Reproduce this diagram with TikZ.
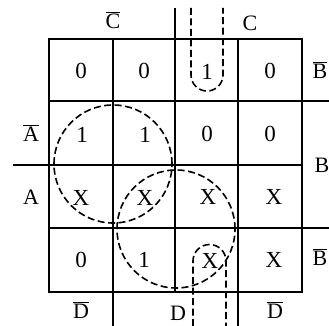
\documentclass[tikz,border=0pt]{standalone}
\usepackage{fontspec}
\setmainfont{Liberation Serif}
\begin{document}
\begin{tikzpicture}[x=1pt,y=-1pt,
  gridline/.style={line width=2pt},
  loopline/.style={line width=1.6pt, dash pattern=on 7pt off 3.5pt},
  val/.style={font=\fontsize{23}{23}\selectfont, inner sep=0pt},
  lab/.style={font=\fontsize{22}{22}\selectfont, inner sep=0pt}]
\useasboundingbox (0,0) rectangle (329,326);
\fill[white] (0,0) rectangle (329,326);
% grid
\draw[gridline] (49,39) rectangle (302,292);
\draw[gridline] (113,39) -- (113,326);
\draw[gridline] (175,8) -- (175,292);
\draw[gridline] (238,39) -- (238,326);
\draw[gridline] (49,101) -- (329,101);
\draw[gridline] (13,165) -- (302,165);
\draw[gridline] (49,228) -- (329,228);
% values
\node[val] (c11) at (81,71) {0};
\node[val] (c12) at (144,71) {0};
\node[val] (c13) at (207,72) {1};
\node[val] (c14) at (270,71) {0};
\node[val] (c21) at (82,135) {1};
\node[val] (c22) at (145,135) {1};
\node[val] (c23) at (207,134) {0};
\node[val] (c24) at (270,134) {0};
\node[val] (c31) at (81,198) {X};
\node[val] (c32) at (145,198) {X};
\node[val] (c33) at (208,197) {X};
\node[val] (c34) at (274,197) {X};
\node[val] (c41) at (81,260) {0};
\node[val] (c42) at (144,260) {1};
\node[val] (c43) at (210,261) {X};
\node[val] (c44) at (274,260) {X};
% labels
\node[lab] (lCn) at (113,20) {\(\overline{\mbox{C}}\)};
\node[lab] (lC) at (250,23) {C};
\node[lab] (lBn1) at (320,70) {\(\overline{\mbox{B}}\)};
\node[lab] (lB) at (322,165) {B};
\node[lab] (lBn2) at (320,257) {\(\overline{\mbox{B}}\)};
\node[lab] (lAn) at (31,133) {\(\overline{\mbox{A}}\)};
\node[lab] (lA) at (31,197) {A};
\node[lab] (lDn1) at (81,310) {\(\overline{\mbox{D}}\)};
\node[lab] (lD) at (178,313) {D};
\node[lab] (lDn2) at (275,310) {\(\overline{\mbox{D}}\)};
% loops
\draw[loopline] (191,8) -- (191,75) arc (180:360:16pt) -- (223,8);
\draw[loopline] (193,326) -- (193,261) arc (180:0:16.5pt) -- (226,326);
\draw[loopline] (113,164) circle[radius=59pt];
\draw[loopline] (176,229) circle[radius=59pt];
\end{tikzpicture}
\end{document}
